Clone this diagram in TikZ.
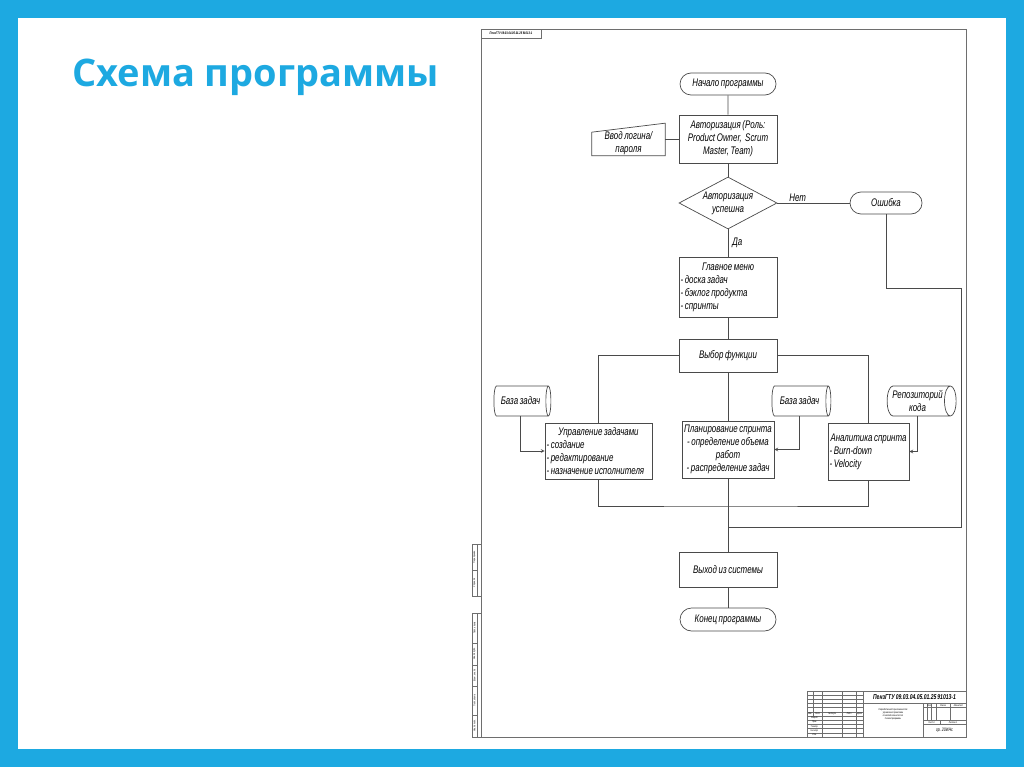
\documentclass[tikz,border=0pt]{standalone}
\usepackage{fontspec}
\setmainfont{Liberation Sans}
\newfontfamily\gostfont[FakeStretch=0.72, WordSpace={0.75,0,0}]{Liberation Sans}
\newfontfamily\titlefont{Open Sans}
\usetikzlibrary{arrows, positioning, shapes.geometric, shapes.misc}
\definecolor{slideblue}{HTML}{1DA9E1}
\definecolor{linegray}{HTML}{4A4A4A}
\definecolor{sheetgray}{HTML}{6E6E6E}
\newcommand\flowfont{\gostfont\itshape\fontsize{11}{13}\selectfont}
\newcommand\stampfont{\gostfont\itshape\fontsize{2.6}{3.1}\selectfont}
\tikzset{
  >=stealth, % small closed heads
  link/.style={draw=linegray, line width=0.7pt},
  block/.style={rectangle, draw=linegray, line width=0.7pt, inner sep=1.5pt,
    execute at begin node={\spaceskip=0pt\xspaceskip=0pt\relax}}, % process boxes
  terminal/.style={rounded rectangle, draw=linegray, line width=0.7pt,
    minimum width=98pt, minimum height=22pt, inner sep=1pt},
  decision/.style={diamond, draw=linegray, line width=0.7pt, aspect=1.9,
    minimum width=98pt, minimum height=52pt, inner sep=0pt, align=center},
  storage/.style={cylinder, draw=linegray, line width=0.7pt, shape aspect=0.5,
    minimum width=30pt, align=center, inner xsep=0pt, inner ysep=1pt}, % data stores
  sheet/.style={draw=sheetgray, line width=0.5pt},
  stamp/.style={font=\stampfont, inner sep=0pt},
}

\begin{document}
\begin{tikzpicture}[x=1pt, y=-1pt, font=\flowfont]
  \useasboundingbox (0,0) rectangle (1024,767);
  \fill[slideblue] (0,0) rectangle (1024,767);
  \fill[white] (18,18) rectangle (1006,749);

  \node[anchor=base west, inner sep=0pt, text=slideblue,
    font=\titlefont\bfseries\fontsize{38}{40}\selectfont] (title) at (72,87)
    {Схема программы};

  % drawing sheet
  \draw[sheet] (481,29) rectangle (966,737);
  \draw[sheet] (481,29) rectangle (541,38);
  \node[stamp, font=\gostfont\bfseries\itshape\fontsize{3.6}{4}\selectfont]
    (code) at (511,33.5) {ПензГТУ 09.03.04.05.01.25 91013-1};
  \draw[sheet] (472,544) rectangle (481,596);
  \draw[sheet] (477,544) -- (477,596) (472,570) -- (477,570);
  \draw[sheet] (472,613) rectangle (481,737);
  \draw[sheet] (477,613) -- (477,737);
  \foreach \y in {643,665,686,715}
    \draw[sheet] (472,\y) -- (477,\y);
  \node[stamp, rotate=90] (perv) at (474.5,557) {Перв. примен.};
  \node[stamp, rotate=90] (sprav) at (474.5,583) {Справ. №};
  \node[stamp, rotate=90] (podp1) at (474.5,628) {Подп. и дата};
  \node[stamp, rotate=90] (dubl) at (474.5,654) {Инв. № дубл.};
  \node[stamp, rotate=90] (vzam) at (474.5,675.5) {Взам. инв. №};
  \node[stamp, rotate=90] (podp2) at (474.5,700.5) {Подп. и дата};
  \node[stamp, rotate=90] (podl) at (474.5,726) {Инв. № подл.};

  % title block
  \draw[sheet] (807,691) rectangle (966,737);
  \foreach \y in {695.2,699.4,703.5,707.7,711.9,716.1,720.2,724.4,728.6,732.8}
    \draw[sheet] (807,\y) -- (863,\y);
  \draw[sheet] (813.2,691) -- (813.2,716.1);
  \foreach \x in {822.1,842.6,856,863}
    \draw[sheet] (\x,691) -- (\x,737);
  \draw[sheet] (863,703.5) -- (966,703.5);
  \draw[sheet] (923,703.5) -- (923,737);
  \draw[sheet] (923,707.7) -- (966,707.7);
  \draw[sheet] (923,720.2) -- (966,720.2) (923,724.4) -- (966,724.4);
  \foreach \x in {927.3,931.6,935.9,950.5}
    \draw[sheet] (\x,703.5) -- (\x,720.2);
  \draw[sheet] (940.2,720.2) -- (940.2,724.4);
  \node[stamp] (izm) at (810,714) {Изм.};
  \node[stamp] (list) at (817.6,714) {Лист};
  \node[stamp] (dokum) at (832.3,714) {№ докум.};
  \node[stamp] (podp) at (849.3,714) {Подп.};
  \node[stamp] (data) at (859.5,714) {Дата};
  \node[stamp] (razrab) at (814.5,718.2) {Разраб.};
  \node[stamp] (prov) at (814.5,722.3) {Пров.};
  \node[stamp] (tkontr) at (814.5,726.5) {Т.контр.};
  \node[stamp] (nkontr) at (814.5,730.7) {Н.контр.};
  \node[stamp] (utv) at (814.5,734.9) {Утв.};
  \node[stamp, font=\gostfont\bfseries\itshape\fontsize{7}{7}\selectfont]
    (desig) at (914.5,697.5) {ПензГТУ 09.03.04.05.01.25 91013-1};
  \node[stamp, align=center] (theme) at (893,714)
    {Разработка веб-приложения для\\управления проектами\\по методологии Scrum\\Схема программы};
  \node[stamp] (lit) at (929.5,705.6) {Лит.};
  \node[stamp] (massa) at (943.2,705.6) {Масса};
  \node[stamp] (masshtab) at (958.2,705.6) {Масштаб};
  \node[stamp] (sheetno) at (931.6,722.3) {Лист 1};
  \node[stamp] (sheets) at (953,722.3) {Листов 1};
  \node[stamp, font=\gostfont\itshape\fontsize{5}{5}\selectfont]
    (group) at (944.5,730.7) {гр. 20ИНс};

  % flowchart
  \node[terminal] (start) at (728,84) {Начало программы};
  \node[block, minimum width=98pt, minimum height=48pt, text width=95pt,
    align=center] (auth) at (728,139)
    {Авторизация (Роль:\\Product Owner,\ \ Scrum\\Master, Team)};
  \node[inner sep=1pt, minimum width=73pt, minimum height=24pt, align=center]
    (login) at (628.5,143) {Ввод логина/\\пароля};
  \draw[link] (login.south west) -- (login.south east)
    -- ([yshift=7pt]login.north east) -- ([yshift=-2pt]login.north west) -- cycle;
  \node[decision] (check) at (728,203) {Авторизация\\успешна};
  \node[terminal, minimum width=74pt] (error) at (886,203) {Ошибка};
  \node[block, minimum width=98pt, minimum height=60pt, text width=95pt,
    align=left] (menu) at (728,287)
    {\hfill Главное меню\hfill\null\\- доска задач\\- бэклог продукта\\- спринты};
  \node[block, minimum width=98pt, minimum height=33pt] (choice)
    at (728,355.5) {Выбор функции};
  \node[block, minimum height=56pt, text width=104pt, align=left] (tasks)
    at (598.5,451) {\hfill Управление задачами\hfill\null\\- создание\\- редактирование\\- назначение исполнителя};
  \node[block, minimum height=57pt, text width=89pt, align=center] (plan)
    at (728,449.5) {Планирование спринта\\- определение объема\\работ\\- распределение задач};
  \node[block, minimum height=57pt, text width=78pt, align=left] (analytics)
    at (868.5,451.5) {\hfill Аналитика спринта\hfill\null\\- Burn-down\\- Velocity};
  \node[storage, minimum height=57pt] (taskdb) at (520.5,401) {База задач};
  \node[storage, minimum height=59pt] (plandb) at (799.5,401) {База задач};
  \node[storage, minimum height=69pt] (repo) at (917.5,401) {Репозиторий\\кода};
  \node[block, minimum width=98pt, minimum height=35pt] (exit)
    at (728,569.5) {Выход из системы};
  \node[terminal, minimum height=23pt] (finish) at (728,619.5) {Конец программы};

  \coordinate (join) at (728,506);
  \coordinate (back) at (728,527);
  \coordinate (errturn) at (961,288);

  \draw[link] (start) -- (auth);
  \draw[link] (auth.west) -- (auth.west -| login.east);
  \draw[link] (auth) -- (check);
  \draw[link] (check) -- node[pos=0.28, above, inner sep=1.5pt] {Нет} (error);
  \draw[link] (check) -- node[right, inner sep=4pt] {Да} (menu);
  \draw[link] (error.south) |- (errturn) |- (back);
  \draw[link] (menu) -- (choice);
  \draw[link] (choice.west) -| (tasks.north);
  \draw[link] (choice.east) -| (analytics.north);
  \draw[link] (choice) -- (plan);
  \draw[link, ->] (taskdb.south) |- (tasks.west);
  \draw[link, ->] (plandb.south) |- (plan.east);
  \draw[link, ->] (repo.south) |- (analytics.east);
  \draw[link] (tasks.south) |- (join) -| (analytics.south);
  \draw[link] (plan) -- (exit);
  \draw[link] (exit) -- (finish);
\end{tikzpicture}
\end{document}
